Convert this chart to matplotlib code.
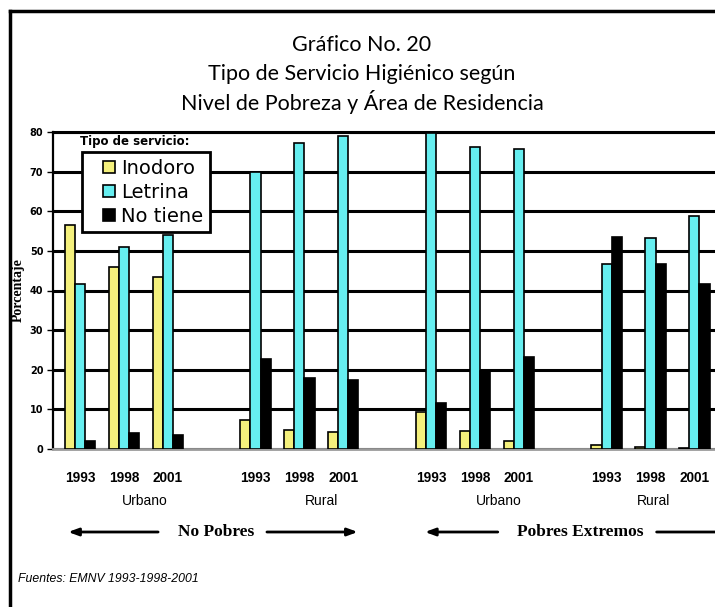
import numpy as np
import matplotlib.pyplot as plt
from matplotlib.lines import Line2D
from matplotlib.transforms import blended_transform_factory

# data
years = ['1993', '1998', '2001']
areas = ['Urbano', 'Rural', 'Urbano', 'Rural']
levels = ['No Pobres', 'Pobres Extremos']
series = ['Inodoro', 'Letrina', 'No tiene']
inodoro = [56.5, 46.0, 43.3, 7.3, 4.8, 4.4, 9.4, 4.6, 1.9, 1.0, 0.4, 0.2]
letrina = [41.6, 51.1, 54.0, 69.9, 77.2, 78.9, 79.7, 76.2, 75.7, 46.7, 53.2, 58.8]
no_tiene = [2.0, 4.0, 3.5, 22.6, 17.8, 17.3, 11.7, 19.8, 23.1, 53.5, 46.7, 41.6]

colors = ['#F4F07C', '#66EEF0', '#000000']
narrow = ['Liberation Sans Narrow', 'Liberation Sans', 'DejaVu Sans']

W, H = 715, 607
fig = plt.figure(figsize=(W / 100, H / 100), dpi=100)
ax = fig.add_axes([53 / W, 1 - 449 / H, 1 - 53 / W, (449 - 132) / H])

x = np.array([g * 4 + k for g in range(len(areas)) for k in range(len(years))], dtype=float)
w = 0.23
for off, vals, c, lab in zip([-w, 0, w], [inodoro, letrina, no_tiene], colors, series):
    ax.bar(x + off, vals, w, color=c, edgecolor='black', linewidth=1.2, label=lab, zorder=3)

ax.set_xlim(-0.615, 14.47)
ax.set_ylim(0, 80)
ax.set_yticks(range(0, 81, 10))
ax.yaxis.grid(True, color='black', linewidth=2.2)
ax.set_axisbelow(True)

ax.spines['right'].set_visible(False)
ax.spines['top'].set_linewidth(2.2)
ax.spines['left'].set_linewidth(1.6)
ax.spines['bottom'].set_color('#9a9a9a')
ax.spines['bottom'].set_linewidth(2)

ax.tick_params(axis='y', length=4, width=1, labelsize=7, pad=3)
for t in ax.get_yticklabels():
    t.set_fontweight('bold')
ax.set_xticks(x, years * len(areas))
ax.tick_params(axis='x', length=0, pad=16)
for t in ax.get_xticklabels():
    t.set_family(narrow)
    t.set_fontweight('bold')
    t.set_fontsize(9.8)

ax.set_ylabel('Porcentaje', family='Liberation Serif', fontweight='bold', fontsize=10)
ax.yaxis.set_label_coords(-28 / 662, 0.5)

# legend with square swatches
handles = [Line2D([], [], marker='s', markersize=9, markerfacecolor=c,
                  markeredgecolor='black', markeredgewidth=1.2, linestyle='none')
           for c in colors]
leg = ax.legend(handles, series, loc='upper left', bbox_to_anchor=(82 / W, 1 - 152 / H),
                bbox_transform=fig.transFigure, borderaxespad=0, fancybox=False,
                edgecolor='black', framealpha=1, fontsize=14, handlelength=2.1,
                handletextpad=-0.45, labelspacing=0.25, borderpad=0.35)
leg.get_frame().set_linewidth(2)
leg.set_zorder(5)
fig.text(80 / W, 1 - 141 / H, 'Tipo de servicio:', fontsize=8.5, fontweight='bold',
         va='center', ha='left')

# title
title_lines = ['Gráfico No. 20', 'Tipo de Servicio Higiénico según',
               'Nivel de Pobreza y Área de Residencia']
for i, line in enumerate(title_lines):
    fig.text(362 / W, 1 - (45 + 28.5 * i) / H, line, family=['Lato', 'DejaVu Sans'],
             fontsize=15.5, ha='center', va='center')

# area labels and poverty-level arrows
trans = blended_transform_factory(ax.transData, fig.transFigure)
area_x = [1.48, 5.51, 9.54, 13.07]
for xp, a in zip(area_x, areas):
    ax.text(xp, 1 - 501 / H, a, transform=trans, ha='center', va='center',
            family=narrow, fontsize=10)

y_arr = 1 - 532 / H
level_x = [3.10, 11.39]
arrows = [(-0.27, 1.78), (4.26, 6.33), (7.86, 9.52), (13.14, 16.0)]
for xp, lv in zip(level_x, levels):
    ax.text(xp, y_arr, lv, transform=trans, ha='center', va='center',
            family='Liberation Serif', fontweight='bold', fontsize=12.5)
for i, (a0, a1) in enumerate(arrows):
    tail, head = (a1, a0) if i % 2 == 0 else (a0, a1)
    ax.annotate('', xy=(head, y_arr), xytext=(tail, y_arr), xycoords=trans,
                textcoords=trans, annotation_clip=False,
                arrowprops=dict(arrowstyle='-|>,head_length=0.6,head_width=0.22',
                                lw=2, color='black', shrinkA=0, shrinkB=0))

fig.text(18 / W, 1 - 579 / H, 'Fuentes: EMNV 1993-1998-2001', style='italic',
         fontsize=8.8, family=narrow, va='center')

# outer frame
fig.add_artist(Line2D([9.5 / W, 9.5 / W], [0, 1 - 11 / H], transform=fig.transFigure,
                      color='black', lw=2.5))
fig.add_artist(Line2D([9.5 / W, 1], [1 - 11 / H, 1 - 11 / H], transform=fig.transFigure,
                      color='black', lw=2.5))

fig.savefig('out.png', dpi=100)
